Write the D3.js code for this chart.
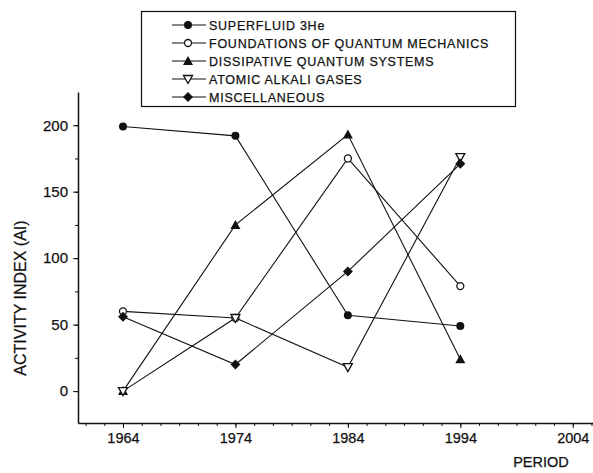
<!DOCTYPE html>
<html><head><meta charset="utf-8">
<script src="https://cdn.jsdelivr.net/npm/d3@7/dist/d3.min.js"></script>
<style>body{margin:0;background:#fff}svg{display:block}text{font-family:"Liberation Sans",Arial,sans-serif;fill:#111;stroke:#111;stroke-width:0.25px}</style>
</head><body><svg id="c" width="593" height="473"></svg>
<script>
const periods = [1964, 1974, 1984, 1994];
const seriesNames = ["SUPERFLUID 3He", "FOUNDATIONS OF QUANTUM MECHANICS", "DISSIPATIVE QUANTUM SYSTEMS", "ATOMIC ALKALI GASES", "MISCELLANEOUS"];
const superfluid = [199, 192, 57, 49];
const foundations = [60, 55, 175, 79];
const dissipative = [0, 125, 193, 24];
const atomic = [0, 55, 18, 176];
const misc = [56, 20, 90, 171];
const xTicks = [1964, 1974, 1984, 1994, 2004];
const yTicks = [0, 50, 100, 150, 200];
const symbols = ["circleFilled", "circleOpen", "triUp", "triDownOpen", "diamond"];
const allSeries = [superfluid, foundations, dissipative, atomic, misc];

const svg = d3.select("#c");
const x = d3.scaleLinear().domain([1960, 2005.8]).range([78, 593]);
const y = d3.scaleLinear().domain([-24, 225]).range([423, 92]);

const minorX = [];
for (let k = -3; k <= 25; k++) { const v = 1964 + k * 10 / 6; if (v >= 1960 && v <= 2005.8) minorX.push(v); }
const gx = svg.append("g").attr("transform", `translate(0,${y(-24)})`)
  .call(d3.axisBottom(x).tickValues(minorX).tickSize(3).tickFormat(""));
gx.select(".domain").remove();
gx.selectAll("line").attr("stroke", "#111");
const gx2 = svg.append("g").attr("transform", `translate(0,${y(-24)})`)
  .call(d3.axisBottom(x).tickValues(xTicks).tickSize(5).tickSizeOuter(0).tickPadding(5).tickFormat(d3.format("d")));
gx2.select(".domain").attr("stroke", "#111").attr("stroke-width", 1.5);
gx2.selectAll("line").attr("stroke", "#111");
gx2.selectAll("text").style("font-size", "14.5px").attr("fill", "#111");

const gy = svg.append("g").attr("transform", `translate(${x(1960)},0)`)
  .call(d3.axisLeft(y).tickValues(d3.range(-25, 226, 25).filter(v => v > -24 && v < 225)).tickSize(3).tickFormat(""));
gy.select(".domain").remove();
gy.selectAll("line").attr("stroke", "#111");
const gy2 = svg.append("g").attr("transform", `translate(${x(1960)},0)`)
  .call(d3.axisLeft(y).tickValues(yTicks).tickSize(5).tickSizeOuter(0).tickPadding(5).tickFormat(d3.format("d")));
gy2.select(".domain").attr("stroke", "#111").attr("stroke-width", 1.5);
gy2.selectAll("line").attr("stroke", "#111");
gy2.selectAll("text").style("font-size", "15px").attr("fill", "#111");

svg.append("text").attr("transform", `translate(26,${298}) rotate(-90)`).attr("text-anchor", "middle")
  .style("font-size", "16px").text("ACTIVITY INDEX (AI)");
svg.append("text").attr("x", 541).attr("y", 467).attr("text-anchor", "middle")
  .style("font-size", "14.5px").text("PERIOD");

function drawMarker(g, type, cx, cy) {
  if (type === "circleFilled") g.append("circle").attr("cx", cx).attr("cy", cy).attr("r", 4).attr("fill", "#111");
  else if (type === "circleOpen") g.append("circle").attr("cx", cx).attr("cy", cy).attr("r", 3.5).attr("fill", "#fff").attr("stroke", "#111").attr("stroke-width", 1.3);
  else if (type === "triUp") g.append("path").attr("d", `M${cx},${cy-5}L${cx+5},${cy+4}L${cx-5},${cy+4}Z`).attr("fill", "#111");
  else if (type === "triDownOpen") g.append("path").attr("d", `M${cx},${cy+4.5}L${cx+4.5},${cy-3.5}L${cx-4.5},${cy-3.5}Z`).attr("fill", "#fff").attr("stroke", "#111").attr("stroke-width", 1.3);
  else if (type === "diamond") g.append("path").attr("d", `M${cx},${cy-5}L${cx+5},${cy}L${cx},${cy+5}L${cx-5},${cy}Z`).attr("fill", "#111");
}

const line = d3.line().x((d, i) => x(periods[i])).y(d => y(d));
allSeries.forEach(s => {
  svg.append("path").datum(s).attr("d", line).attr("fill", "none").attr("stroke", "#111").attr("stroke-width", 1.1);
});
allSeries.forEach((s, k) => {
  const g = svg.append("g");
  s.forEach((v, i) => drawMarker(g, symbols[k], x(periods[i]), y(v)));
});

const lg = svg.append("g");
lg.append("rect").attr("x", 141.5).attr("y", 11.5).attr("width", 374).attr("height", 95).attr("fill", "#fff").attr("stroke", "#111").attr("stroke-width", 1.2);
seriesNames.forEach((n, i) => {
  const yy = 25 + i * 18;
  lg.append("line").attr("x1", 172).attr("x2", 206).attr("y1", yy).attr("y2", yy).attr("stroke", "#111").attr("stroke-width", 1.1);
  drawMarker(lg, symbols[i], 188, yy);
  lg.append("text").attr("x", 209).attr("y", yy + 4.5).style("font-size", "12.5px").style("letter-spacing", "0.75px").text(n);
});
</script></body></html>
